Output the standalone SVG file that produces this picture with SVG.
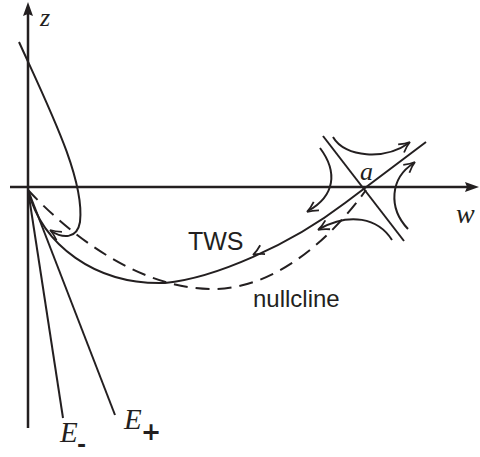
<svg xmlns="http://www.w3.org/2000/svg" xmlns:xlink="http://www.w3.org/1999/xlink" width="480" height="457" viewBox="0 0 480 457">
<style>
.ax{stroke:#231f20;stroke-width:2.5;fill:none}
.c{stroke:#231f20;stroke-width:2;fill:none}
.d{stroke:#231f20;stroke-width:2;fill:none;stroke-dasharray:14 8}
.ah{stroke:#231f20;stroke-width:1.8;fill:none;stroke-linejoin:miter}
.it{font-family:"Liberation Serif","Times New Roman",serif;font-style:italic;fill:#231f20}
.sn{font-family:"Liberation Sans",Arial,sans-serif;fill:#231f20}
.sb{font-family:"DejaVu Sans","Liberation Sans",sans-serif;font-weight:bold;fill:#231f20}
</style>
<defs>
<path id="ah" d="M-11,-5 Q-5,-1.2 0,0 Q-5,1.2 -11,5"/>
</defs>
<g id="axes">
<line class="ax" x1="28" y1="428" x2="28" y2="14"/>
<polygon points="28,2 33,16 28,14 23,16" fill="#231f20"/>
<line class="ax" x1="10" y1="187" x2="468" y2="187"/>
<polygon points="479,187 465,192 467,187 465,182" fill="#231f20"/>
<text class="it" x="40" y="26" font-size="26">z</text>
<text class="it" x="456" y="223" font-size="28">w</text>
</g>
<g id="connectors">
<path id="loop" class="c" d="M19,42 C50,110 85,180 80,222 C77,240 62,238 51,231"/>
<use xlink:href="#ah" class="ah" transform="translate(50,230) rotate(213)"/>
<path id="tws" class="c" d="M28,190 C42,245 95,285 165,283 C215,278 290,245 345,203 L426,142"/>
<use xlink:href="#ah" class="ah" transform="translate(253,255) rotate(151)"/>
<path id="nullcline" class="d" d="M28,190 C70,235 140,290 215,289 C275,288 330,240 366,190"/>
<line id="sep2" class="c" x1="323" y1="136" x2="404" y2="241"/>
<line id="eminus" class="c" x1="28" y1="190" x2="63" y2="418"/>
<line id="eplus" class="c" x1="28" y1="190" x2="115" y2="415"/>
<path id="hyp-top" class="c" d="M333,137 C345,158 385,160 409,143"/>
<use xlink:href="#ah" class="ah" transform="translate(410,142) rotate(-36)"/>
<path id="hyp-left" class="c" d="M320,148 C338,172 335,196 308,211"/>
<use xlink:href="#ah" class="ah" transform="translate(307,212) rotate(148)"/>
<path id="hyp-right" class="c" d="M408,229 C388,208 390,178 414,163"/>
<use xlink:href="#ah" class="ah" transform="translate(415,162) rotate(-38)"/>
<path id="hyp-bottom" class="c" d="M392,240 C378,218 350,212 319,229"/>
<use xlink:href="#ah" class="ah" transform="translate(318,230) rotate(152)"/>
</g>
<g id="labels">
<text class="it" x="360" y="180" font-size="26">a</text>
<text class="sn" x="188" y="250" font-size="25">TWS</text>
<text class="sn" x="253" y="307" font-size="24">nullcline</text>
<g id="E-minus"><text class="it" x="60" y="442" font-size="29">E</text><text class="sb" x="77" y="452" font-size="22">-</text></g>
<g id="E-plus"><text class="it" x="124" y="429" font-size="29">E</text><text class="sb" x="141" y="440" font-size="24">+</text></g>
</g>
</svg>
